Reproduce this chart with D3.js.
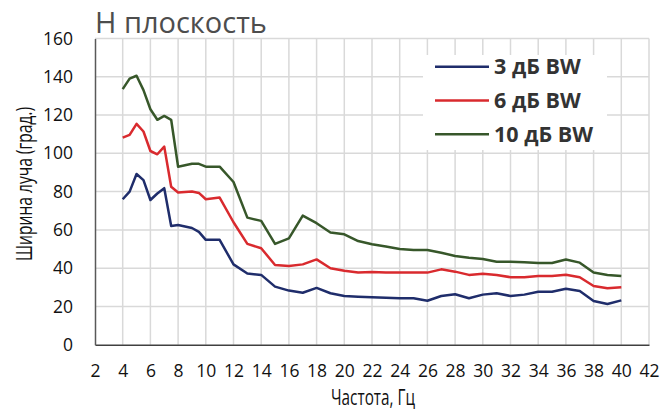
<!DOCTYPE html>
<html>
<head>
<meta charset="utf-8">
<script src="https://cdn.jsdelivr.net/npm/d3@7"></script>
<style>
  body { margin: 0; background: #fff; }
  svg text { font-family: "Open Sans", sans-serif; }
</style>
</head>
<body>
<div id="chart"></div>
<script>
// частоты, Гц
const freqs = [4, 4.5, 5, 5.5, 6, 6.5, 7, 7.5, 8, 9, 9.5, 10, 11, 12, 13, 14, 15, 16, 17, 18, 19, 20,
  21, 22, 23, 24, 25, 26, 27, 28, 29, 30, 31, 32, 33, 34, 35, 36, 37, 38, 39, 40];

const bw3 = [76, 80, 89.2, 86, 75.6, 79, 81.8, 62, 62.6, 61, 59, 54.8, 54.8, 42, 37.2, 36.5, 30.4, 28.3, 27.2, 29.7, 26.9, 25.5,
  25.1, 24.8, 24.6, 24.3, 24.3, 23, 25.5, 26.4, 24.3, 26.2, 26.9, 25.5, 26.2, 27.7, 27.7, 29.3, 28.1, 22.9, 21.3, 23.2];

const bw6 = [108.2, 109.6, 115.4, 111.4, 101.2, 99.5, 103.5, 82.5, 79.5, 80, 79.3, 76, 76.9, 64, 52.7, 50.4, 41.7, 41.2, 42, 44.6, 40, 38.7,
  37.7, 38, 37.7, 37.7, 37.7, 37.7, 39.4, 38.2, 36.5, 37.1, 36.5, 35.3, 35.3, 35.9, 35.9, 36.6, 35.3, 30.7, 29.5, 30];

const bw10 = [133.5, 139, 140.5, 133, 123, 117.5, 119.5, 117.5, 93, 94.5, 94.5, 93, 93, 85, 66.4, 64.7, 52.7, 55.6, 67.5, 63.5, 58.6, 57.7,
  54.2, 52.5, 51.3, 50, 49.5, 49.5, 48.1, 46.4, 45.5, 44.8, 43.4, 43.4, 43.1, 42.7, 42.7, 44.5, 42.9, 37.7, 36.5, 35.9];

const seriesNames = ["3 дБ BW", "6 дБ BW", "10 дБ BW"];
const seriesColors = ["#1f2d6b", "#d92a2e", "#37572a"];
const xTicks = d3.range(2, 43, 2);
const yTicks = d3.range(0, 161, 20);

const width = 671, height = 410;
const svg = d3.select("#chart").append("svg")
  .attr("width", width)
  .attr("height", height);

const x = d3.scaleLinear().domain([2, 42]).range([95, 649]);
const y = d3.scaleLinear().domain([0, 160]).range([344.8, 38.4]);

// сетка
svg.append("g").selectAll("line")
  .data(yTicks.filter(d => d > 0))
  .enter().append("line")
  .attr("x1", x(2)).attr("x2", x(42))
  .attr("y1", d => y(d)).attr("y2", d => y(d))
  .attr("stroke", "#d9d9d9").attr("stroke-width", 1.5);

svg.append("g").selectAll("line")
  .data(xTicks.filter(d => d > 2))
  .enter().append("line")
  .attr("x1", d => x(d)).attr("x2", d => x(d))
  .attr("y1", y(0)).attr("y2", y(160))
  .attr("stroke", "#d9d9d9").attr("stroke-width", 1.5);

// оси
const xAxis = svg.append("g")
  .attr("transform", `translate(0,${y(0)})`)
  .call(d3.axisBottom(x).tickValues(xTicks).tickSize(0).tickPadding(20));
xAxis.select(".domain").attr("stroke", "#404040").attr("stroke-width", 1.5);
xAxis.selectAll("text").attr("font-size", 17.5).attr("fill", "#111")
  .attr("font-family", "'Open Sans', sans-serif");

const yAxis = svg.append("g")
  .attr("transform", `translate(${x(2)},0)`)
  .call(d3.axisLeft(y).tickValues(yTicks).tickSize(0).tickPadding(22));
yAxis.select(".domain").attr("stroke", "#595959").attr("stroke-width", 1.5);
yAxis.selectAll("text").attr("font-size", 17.5).attr("fill", "#111")
  .attr("font-family", "'Open Sans', sans-serif");

// линии
const allSeries = [bw3, bw6, bw10];
const line = d3.line().x((d, i) => x(freqs[i])).y(d => y(d));

allSeries.forEach((vals, k) => {
  svg.append("path")
    .datum(vals)
    .attr("fill", "none")
    .attr("stroke", seriesColors[k])
    .attr("stroke-width", 2.5)
    .attr("stroke-linejoin", "round")
    .attr("d", line);
});

// легенда
const legend = svg.append("g");
legend.append("rect")
  .attr("x", 423).attr("y", 55)
  .attr("width", 184).attr("height", 95)
  .attr("fill", "#fff");

seriesNames.forEach((name, k) => {
  const ly = 66.7 + k * 33.8;
  legend.append("line")
    .attr("x1", 435).attr("x2", 489)
    .attr("y1", ly).attr("y2", ly)
    .attr("stroke", seriesColors[k]).attr("stroke-width", 2.5);
  legend.append("text")
    .attr("x", 494).attr("y", ly)
    .attr("dy", "0.36em")
    .attr("font-size", 21.5)
    .attr("font-weight", "bold")
    .attr("fill", "#333")
    .text(name);
});

// заголовок и подписи осей
svg.append("text")
  .attr("x", 95).attr("y", 33)
  .attr("font-size", 29)
  .attr("fill", "#4d4d4d")
  .text("Н плоскость");

svg.append("text")
  .attr("x", 373).attr("y", 398)
  .attr("dy", "0.35em")
  .attr("text-anchor", "middle")
  .attr("font-size", 21)
  .attr("fill", "#111")
  .attr("textLength", 84)
  .attr("lengthAdjust", "spacingAndGlyphs")
  .text("Частота, Гц");

svg.append("text")
  .attr("transform", "translate(25,184) rotate(-90)")
  .attr("dy", "0.35em")
  .attr("text-anchor", "middle")
  .attr("font-size", 21)
  .attr("fill", "#111")
  .attr("textLength", 154)
  .attr("lengthAdjust", "spacingAndGlyphs")
  .text("Ширина луча (град.)");
</script>
</body>
</html>
